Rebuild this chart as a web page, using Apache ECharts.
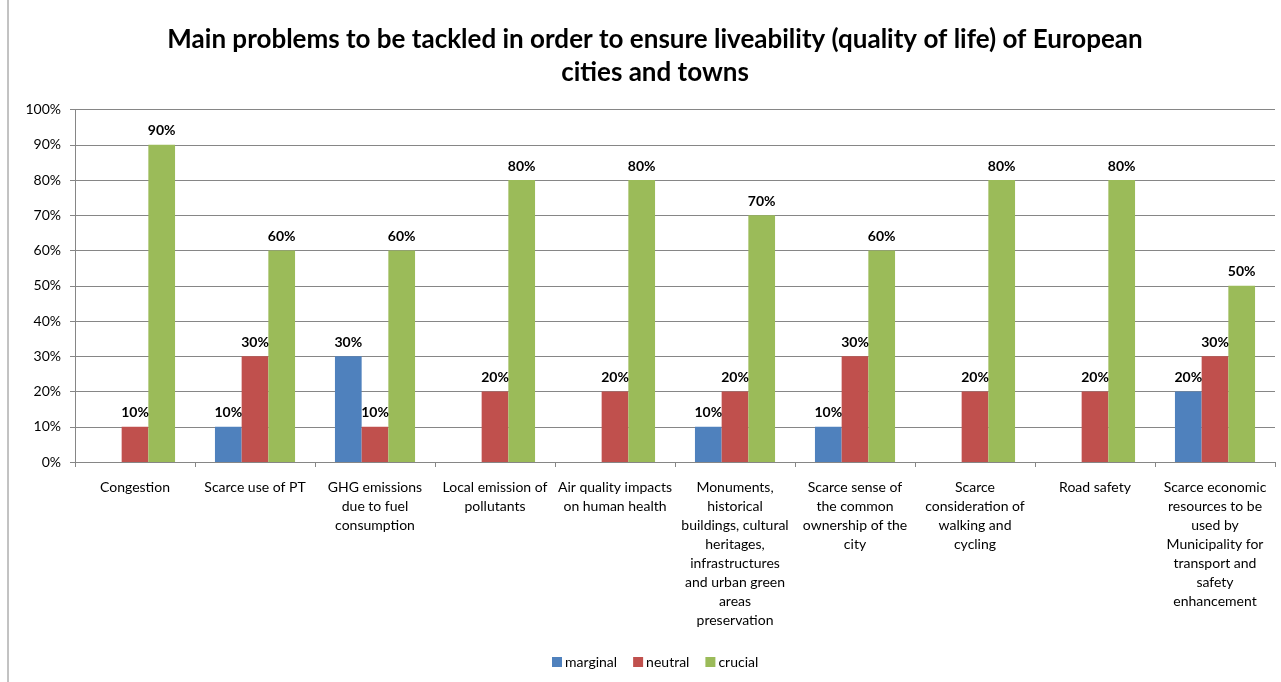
<!DOCTYPE html>
<html>
<head>
<meta charset="utf-8">
<script src="https://cdn.jsdelivr.net/npm/echarts@6/dist/echarts.min.js"></script>
<style>html,body{margin:0;padding:0;background:#fff}#c{width:1281px;height:682px}</style>
</head>
<body>
<div id="c"></div>
<script>
const titleText = "Main problems to be tackled in order to ensure liveability (quality of life) of European\ncities and towns";
const categories = [
  "Congestion",
  "Scarce use of PT",
  "GHG emissions\ndue to fuel\nconsumption",
  "Local emission of\npollutants",
  "Air quality impacts\non human health",
  "Monuments,\nhistorical\nbuildings, cultural\nheritages,\ninfrastructures\nand urban green\nareas\npreservation",
  "Scarce sense of\nthe common\nownership of the\ncity",
  "Scarce\nconsideration of\nwalking and\ncycling",
  "Road safety",
  "Scarce economic\nresources to be\nused by\nMunicipality for\ntransport and\nsafety\nenhancement"
];
const seriesNames = ["marginal", "neutral", "crucial"];
const marginal = [0, 10, 30, 0, 0, 10, 10, 0, 0, 20];
const neutral  = [10, 30, 10, 20, 20, 20, 30, 20, 20, 30];
const crucial  = [90, 60, 60, 80, 80, 70, 60, 80, 80, 50];
const yTicks = [0, 10, 20, 30, 40, 50, 60, 70, 80, 90, 100];
const colors = ["#4F81BD", "#C0504D", "#9BBB59"];

const font = "Lato, 'Open Sans', sans-serif";
const chart = echarts.init(document.getElementById('c'), null, {renderer: 'canvas'});
const mk = (name, data, color) => ({
  name, type: 'bar', data, barWidth: 26.7, barGap: '0%', barCategoryGap: '33.3%',
  itemStyle: {color},
  label: {
    show: true, position: 'top', distance: 7,
    fontFamily: font, fontWeight: 'bold', fontSize: 14, color: '#000',
    formatter: p => p.value ? p.value + '%' : ''
  }
});
chart.setOption({
  animation: false,
  backgroundColor: '#fff',
  title: {
    text: titleText, left: 650, top: 18, textAlign: 'center',
    textStyle: {fontFamily: font, fontWeight: 'bold', fontSize: 26, lineHeight: 33, color: '#000'}
  },
  legend: {
    data: seriesNames, bottom: 8, left: 547, itemWidth: 10, itemHeight: 10, itemGap: 16,
    icon: 'rect', textStyle: {fontFamily: font, fontSize: 14, color: '#000', padding: [0, 0, 0, -2]}
  },
  grid: {left: 75, right: 6, top: 109.5, bottom: 220, containLabel: false},
  xAxis: {
    type: 'category', data: categories,
    axisLine: {lineStyle: {color: '#868686'}},
    axisTick: {show: true, length: 5, lineStyle: {color: '#868686'}},
    axisLabel: {interval: 0, fontFamily: font, fontSize: 14, lineHeight: 19, color: '#000', margin: 16}
  },
  yAxis: {
    type: 'value', min: 0, max: 100, interval: 10,
    axisLine: {show: true, lineStyle: {color: '#868686'}},
    axisTick: {show: true, length: 5, lineStyle: {color: '#868686'}},
    splitLine: {lineStyle: {color: '#868686'}},
    axisLabel: {fontFamily: font, fontSize: 14, color: '#000', margin: 14,
      formatter: v => yTicks.includes(v) ? v + '%' : ''}
  },
  graphic: [{type: 'line', shape: {x1: 8, y1: 0, x2: 8, y2: 682}, style: {stroke: '#868686', lineWidth: 1}}],
  series: [mk(seriesNames[0], marginal, colors[0]), mk(seriesNames[1], neutral, colors[1]), mk(seriesNames[2], crucial, colors[2])]
});
</script>
</body>
</html>
